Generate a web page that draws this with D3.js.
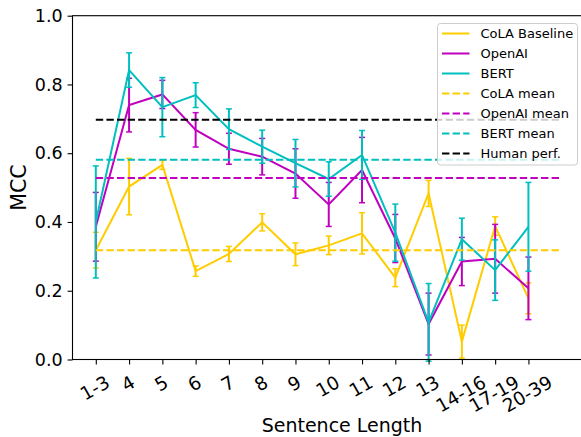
<!DOCTYPE html>
<html>
<head>
<meta charset="utf-8">
<script src="https://cdn.jsdelivr.net/npm/d3@7/dist/d3.min.js"></script>
<style>
  body { margin: 0; background: #fff; }
  svg { display: block; font-family: "DejaVu Sans", sans-serif; }
</style>
</head>
<body>
<svg id="chart"></svg>
<script>
const categories = ["1-3", "4", "5", "6", "7", "8", "9", "10", "11", "12", "13", "14-16", "17-19", "20-39"];

const colaMcc = [0.318, 0.503, 0.566, 0.257, 0.307, 0.399, 0.306, 0.332, 0.367, 0.238, 0.483, 0.052, 0.388, 0.178];
const colaErr = [0.052, 0.082, 0.013, 0.015, 0.022, 0.025, 0.033, 0.027, 0.060, 0.026, 0.038, 0.048, 0.027, 0.045];

const openaiMcc = [0.386, 0.740, 0.771, 0.668, 0.613, 0.590, 0.541, 0.451, 0.551, 0.352, 0.103, 0.285, 0.293, 0.207];
const openaiErr = [0.100, 0.078, 0.041, 0.050, 0.045, 0.053, 0.072, 0.064, 0.095, 0.070, 0.090, 0.070, 0.100, 0.091];

const bertMcc = [0.400, 0.842, 0.734, 0.769, 0.670, 0.619, 0.571, 0.525, 0.595, 0.369, 0.108, 0.350, 0.260, 0.386];
const bertErr = [0.163, 0.050, 0.086, 0.036, 0.059, 0.048, 0.069, 0.050, 0.071, 0.083, 0.113, 0.061, 0.088, 0.129];

const colaMean = 0.318;
const openaiMean = 0.528;
const bertMean = 0.581;
const humanPerf = 0.697;

const yTicks = [0.0, 0.2, 0.4, 0.6, 0.8, 1.0];

const W = 581, H = 437;
const mLeft = 72.5, mRight = 585, mTop = 15.7, mBottom = 359.5;
const FONT = "DejaVu Sans, sans-serif";

const svg = d3.select("#chart").attr("width", W).attr("height", H).attr("viewBox", `0 0 ${W} ${H}`);

const x = d3.scaleLinear().domain([-0.7, 14.7]).range([mLeft, mRight]);
const y = d3.scaleLinear().domain([0, 1]).range([mBottom, mTop]);

const series = [
  { name: "CoLA Baseline", color: "#ffcc00", values: colaMcc, err: colaErr },
  { name: "OpenAI", color: "#bf00bf", values: openaiMcc, err: openaiErr },
  { name: "BERT", color: "#00bfbf", values: bertMcc, err: bertErr }
];

const means = [
  { name: "CoLA mean", color: "#ffcc00", value: colaMean },
  { name: "OpenAI mean", color: "#bf00bf", value: openaiMean },
  { name: "BERT mean", color: "#00bfbf", value: bertMean },
  { name: "Human perf.", color: "#000000", value: humanPerf }
];

const plot = svg.append("g");
const line = d3.line().x((d, i) => x(i)).y(d => y(d));

series.forEach(s => {
  const g = plot.append("g");
  g.append("path")
    .attr("d", line(s.values))
    .attr("fill", "none")
    .attr("stroke", s.color)
    .attr("stroke-width", 2);

  const eb = g.selectAll("g.eb").data(s.values).enter().append("g");
  eb.append("line")
    .attr("x1", (d, i) => x(i)).attr("x2", (d, i) => x(i))
    .attr("y1", (d, i) => y(d + s.err[i])).attr("y2", (d, i) => y(d - s.err[i]))
    .attr("stroke", s.color).attr("stroke-width", 2);
  [1, -1].forEach(sign => {
    eb.append("line")
      .attr("x1", (d, i) => x(i) - 3).attr("x2", (d, i) => x(i) + 3)
      .attr("y1", (d, i) => y(d + sign * s.err[i])).attr("y2", (d, i) => y(d + sign * s.err[i]))
      .attr("stroke", s.color).attr("stroke-width", 1.5);
  });
});

// mean lines across all length bins
means.forEach(m => {
  plot.append("line")
    .attr("x1", x(0)).attr("x2", x(categories.length))
    .attr("y1", y(m.value)).attr("y2", y(m.value))
    .attr("stroke", m.color)
    .attr("stroke-width", 2)
    .attr("stroke-dasharray", "7.4,3.2");
});

// axes
const tickFont = 17.5;
const xTickFont = 18.5;
const xAxis = svg.append("g")
  .attr("transform", `translate(0,${mBottom})`)
  .call(d3.axisBottom(x).tickValues(d3.range(categories.length)).tickFormat(i => categories[i]).tickSize(4.9).tickPadding(4.9))
  .attr("font-family", FONT).attr("font-size", xTickFont);
xAxis.select(".domain").remove();
xAxis.selectAll(".tick line").attr("stroke", "#000").attr("stroke-width", 1.1);

xAxis.selectAll(".tick text")
  .attr("fill", "#000")
  .attr("dy", null)
  .attr("y", null)
  .attr("text-anchor", "middle")
  .attr("dominant-baseline", "central")
  .each(function () {
    const w = this.getComputedTextLength();
    const h = xTickFont * 1.17;
    const a = Math.PI / 6;
    const bh = w * Math.sin(a) + h * Math.cos(a);
    d3.select(this).attr("transform", `translate(-1.5,${11.5 + bh / 2}) rotate(-30)`);
  });

const yAxis = svg.append("g")
  .attr("transform", `translate(${mLeft},0)`)
  .call(d3.axisLeft(y).tickValues(yTicks).tickFormat(d3.format(".1f")).tickSize(4.9).tickPadding(4.9))
  .attr("font-family", FONT).attr("font-size", tickFont);
yAxis.select(".domain").remove();
yAxis.selectAll(".tick line").attr("stroke", "#000").attr("stroke-width", 1.1);
yAxis.selectAll(".tick text").attr("fill", "#000");

svg.append("rect")
  .attr("x", mLeft).attr("y", mTop)
  .attr("width", mRight - mLeft).attr("height", mBottom - mTop)
  .attr("fill", "none").attr("stroke", "#000").attr("stroke-width", 1.1);

svg.append("text")
  .attr("x", 342).attr("y", 425)
  .attr("text-anchor", "middle").attr("dominant-baseline", "central")
  .attr("font-size", 19)
  .text("Sentence Length");

svg.append("text")
  .attr("transform", `translate(19,${(mTop + mBottom) / 2}) rotate(-90)`)
  .attr("text-anchor", "middle").attr("dominant-baseline", "central")
  .attr("font-size", 20.5)
  .text("MCC");

// legend
const entries = series.map(s => ({ name: s.name, color: s.color, dash: null }))
  .concat(means.map(m => ({ name: m.name, color: m.color, dash: "7.4,3.2" })));

const lg = svg.append("g").attr("transform", "translate(437.5,23.5)");
lg.append("rect")
  .attr("width", 140).attr("height", 141.5)
  .attr("rx", 3)
  .attr("fill", "rgba(255,255,255,0.8)")
  .attr("stroke", "#cccccc").attr("stroke-width", 1);

const row = lg.selectAll("g.row").data(entries).enter().append("g")
  .attr("transform", (d, i) => `translate(0,${10 + i * 20})`);
row.append("line")
  .attr("x1", 4.5).attr("x2", 32)
  .attr("stroke", d => d.color).attr("stroke-width", 2)
  .attr("stroke-dasharray", d => d.dash);
row.append("text")
  .attr("x", 43).attr("dominant-baseline", "central")
  .attr("font-size", 13)
  .text(d => d.name);
</script>
</body>
</html>
